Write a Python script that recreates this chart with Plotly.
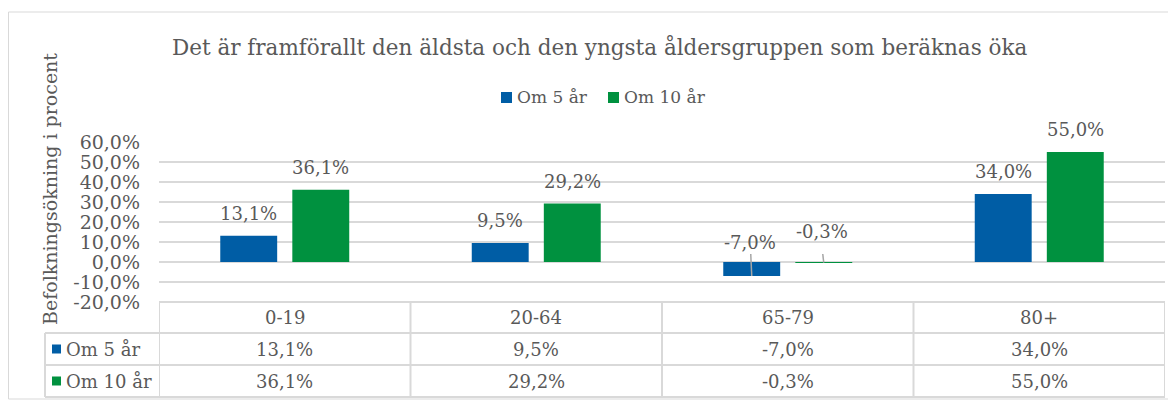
import plotly.graph_objects as go

# ---- data ----
categories = ["0-19", "20-64", "65-79", "80+"]
series_names = ["Om 5 år", "Om 10 år"]
om5 = [13.1, 9.5, -7.0, 34.0]
om10 = [36.1, 29.2, -0.3, 55.0]
colors = ["#005DA5", "#00913F"]
chart_title = "Det är framförallt den äldsta och den yngsta åldersgruppen som beräknas öka"
y_title = "Befolkningsökning i procent"
y_ticks = [-20, -10, 0, 10, 20, 30, 40, 50, 60]

series = [om5, om10]


def fmt(v):
    return f"{v:.1f}".replace(".", ",") + "%"


FONT = "DejaVu Serif"
GRAY = "#595959"
LINE = "#d9d9d9"

OFF = 8  # page body margin
W, H = 1176 - OFF, 403 - OFF
# plot area in screen px
SL, SR, ST, SB = 159, 1165, 142, 302
L, R, T, B = SL - OFF, SR - OFF, ST - OFF, SB - OFF
COLW = (R - L) / len(categories)


def px(xs):
    """screen x px -> paper"""
    return (xs - SL) / (SR - SL)


def py(ys):
    """screen y px -> paper"""
    return (SB - ys) / (SB - ST)


fig = go.Figure()
for name, vals, c in zip(series_names, series, colors):
    fig.add_trace(go.Bar(x=categories, y=vals, name=name,
                         marker=dict(color=c, line_width=0),
                         showlegend=False, hoverinfo="x+y+name"))

ann = []
shapes = []

# title
ann.append(dict(text=chart_title, x=px(600), y=py(47), xref="paper", yref="paper",
                xanchor="center", yanchor="middle", showarrow=False,
                font=dict(family=FONT, size=21.5, color=GRAY)))

# top legend (custom)
leg_sq = [(501, 512), (608, 619)]
for (x0, x1), name, c in zip(leg_sq, series_names, colors):
    shapes.append(dict(type="rect", xref="paper", yref="paper",
                       x0=px(x0), x1=px(x1), y0=py(103), y1=py(92),
                       fillcolor=c, line_width=0))
    ann.append(dict(text=name, x=px(x1 + 3), y=py(97), xref="paper", yref="paper",
                    xanchor="left", yanchor="middle", showarrow=False,
                    font=dict(family=FONT, size=17, color=GRAY)))

# y axis title
ann.append(dict(text=y_title, x=px(50), y=py(189), xref="paper", yref="paper",
                textangle=-90, xanchor="center", yanchor="middle", showarrow=False,
                font=dict(family=FONT, size=19, color=GRAY)))

# data labels
off = 36
for si, vals in enumerate(series):
    shift = -off if si == 0 else off
    for ci, v in enumerate(vals):
        if v >= 0:
            ann.append(dict(text=fmt(v), x=categories[ci], y=v, xref="x", yref="y",
                            xanchor="center", yanchor="bottom", yshift=10, xshift=shift,
                            showarrow=False, font=dict(family=FONT, size=18, color=GRAY)))
        else:
            ys = 7 if si == 0 else 18
            ann.append(dict(text=fmt(v), x=categories[ci], y=0, xref="x", yref="y",
                            xanchor="center", yanchor="bottom", yshift=ys, xshift=shift - 2,
                            showarrow=False, font=dict(family=FONT, size=18, color=GRAY)))
            xc = ci + shift / COLW
            shapes.append(dict(type="line", xref="x", yref="y",
                               x0=xc - 0.004, x1=xc, y0=4, y1=v,
                               line=dict(color="#a6a6a6", width=1.5)))

# data table
row_y = [(302, 333), (333, 365), (365, 397)]
shapes.append(dict(type="line", xref="paper", yref="paper", x0=0, x1=1,
                   y0=py(302), y1=py(302), line=dict(color=LINE, width=2)))
for yy in (333, 365, 397):
    shapes.append(dict(type="line", xref="paper", yref="paper", x0=px(45), x1=1,
                       y0=py(yy), y1=py(yy), line=dict(color=LINE, width=2)))
for k in range(len(categories) + 1):
    shapes.append(dict(type="line", xref="x", yref="paper", x0=k - 0.5, x1=k - 0.5,
                       y0=py(302), y1=py(397), line=dict(color=LINE, width=2)))
shapes.append(dict(type="line", xref="paper", yref="paper", x0=px(45), x1=px(45),
                   y0=py(333), y1=py(397), line=dict(color=LINE, width=2)))

for cat in categories:
    ann.append(dict(text=cat, x=cat, y=py(317.5), xref="x", yref="paper",
                    xanchor="center", yanchor="middle", showarrow=False,
                    font=dict(family=FONT, size=18, color=GRAY)))
for (y0, y1), name, vals, c in zip(row_y[1:], series_names, series, colors):
    yc = (y0 + y1) / 2
    shapes.append(dict(type="rect", xref="paper", yref="paper",
                       x0=px(52), x1=px(61), y0=py(yc + 4.5), y1=py(yc - 4.5),
                       fillcolor=c, line_width=0))
    ann.append(dict(text=name, x=px(64), y=py(yc), xref="paper", yref="paper",
                    xanchor="left", yanchor="middle", showarrow=False,
                    font=dict(family=FONT, size=18, color=GRAY)))
    for cat, v in zip(categories, vals):
        ann.append(dict(text=fmt(v), x=cat, y=py(yc), xref="x", yref="paper",
                        xanchor="center", yanchor="middle", showarrow=False,
                        font=dict(family=FONT, size=18, color=GRAY)))

# outer border
shapes.append(dict(type="rect", xref="paper", yref="paper",
                   x0=px(8.5), x1=px(1170), y0=py(399), y1=py(12),
                   line=dict(color=LINE, width=1), fillcolor="rgba(0,0,0,0)", layer="below"))

fig.update_layout(
    width=W, height=H, autosize=False,
    margin=dict(l=L, r=W - R, t=T, b=H - B, pad=0),
    paper_bgcolor="white", plot_bgcolor="white",
    separators=", ",
    barmode="group", bargap=0.427, bargroupgap=0.21,
    showlegend=False,
    font=dict(family=FONT, color=GRAY),
    annotations=ann, shapes=shapes,
    xaxis=dict(range=[-0.5, len(categories) - 0.5], showticklabels=False,
               showgrid=False, zeroline=False, showline=False, ticks=""),
    yaxis=dict(range=[min(y_ticks), max(y_ticks)], tickvals=y_ticks,
               ticktext=[fmt(v) for v in y_ticks], showgrid=True,
               gridcolor=LINE, gridwidth=1.5, zeroline=False, showline=False,
               ticks="", ticklabelstandoff=18,
               tickfont=dict(family=FONT, size=19, color=GRAY)),
)

fig.write_html("out.html")
